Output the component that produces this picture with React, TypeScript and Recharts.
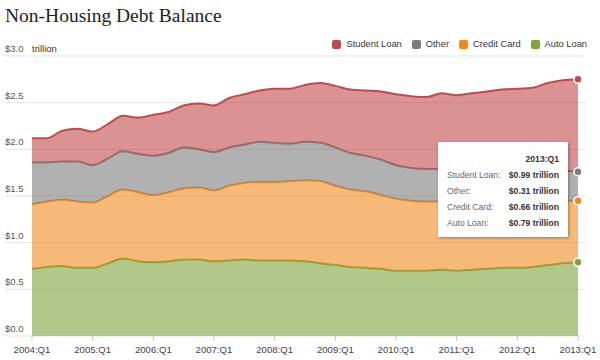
import React from 'react';
import { AreaChart, Area, XAxis, YAxis, CartesianGrid, Tooltip } from 'recharts';

const quarters = [
  '2004:Q1','2004:Q2','2004:Q3','2004:Q4',
  '2005:Q1','2005:Q2','2005:Q3','2005:Q4',
  '2006:Q1','2006:Q2','2006:Q3','2006:Q4',
  '2007:Q1','2007:Q2','2007:Q3','2007:Q4',
  '2008:Q1','2008:Q2','2008:Q3','2008:Q4',
  '2009:Q1','2009:Q2','2009:Q3','2009:Q4',
  '2010:Q1','2010:Q2','2010:Q3','2010:Q4',
  '2011:Q1','2011:Q2','2011:Q3','2011:Q4',
  '2012:Q1','2012:Q2','2012:Q3','2012:Q4',
  '2013:Q1',
];

const autoLoan = [0.72,0.74,0.75,0.73,0.73,0.78,0.83,0.80,0.79,0.80,0.82,0.82,0.80,0.81,0.82,0.81,0.81,0.81,0.80,0.78,0.76,0.74,0.73,0.72,0.70,0.70,0.70,0.71,0.70,0.71,0.72,0.73,0.73,0.74,0.76,0.78,0.79];
const creditCard = [0.69,0.70,0.71,0.71,0.70,0.72,0.74,0.74,0.72,0.74,0.76,0.77,0.76,0.80,0.82,0.84,0.84,0.85,0.87,0.88,0.85,0.83,0.82,0.79,0.77,0.75,0.74,0.73,0.74,0.73,0.72,0.71,0.71,0.70,0.69,0.67,0.66];
const other = [0.45,0.42,0.41,0.43,0.40,0.40,0.41,0.41,0.42,0.42,0.44,0.41,0.41,0.41,0.41,0.43,0.42,0.40,0.41,0.41,0.41,0.39,0.38,0.38,0.36,0.35,0.35,0.35,0.34,0.34,0.33,0.33,0.33,0.32,0.32,0.32,0.31];
const studentLoan = [0.26,0.26,0.33,0.35,0.36,0.37,0.38,0.39,0.44,0.44,0.45,0.49,0.50,0.53,0.54,0.55,0.58,0.59,0.61,0.64,0.66,0.68,0.70,0.73,0.76,0.77,0.77,0.81,0.80,0.82,0.85,0.87,0.88,0.90,0.94,0.97,0.99];

const yTicks = [0, 0.5, 1.0, 1.5, 2.0, 2.5, 3.0];

const series = [
  { key: 'auto', name: 'Auto Loan', color: '#7ea43d', values: autoLoan },
  { key: 'cc', name: 'Credit Card', color: '#f08a1c', values: creditCard },
  { key: 'other', name: 'Other', color: '#7d7d7d', values: other },
  { key: 'student', name: 'Student Loan', color: '#c24a4b', values: studentLoan },
];

const data = quarters.map((q, i) => {
  const row: any = { q };
  series.forEach((s) => { row[s.key] = s.values[i]; });
  return row;
});

const FONT = "'Liberation Sans', Arimo, sans-serif";

const YTick = (props: any) => {
  const { y, payload } = props;
  const v = Number(payload.value);
  return (
    <g>
      <text x={5} y={y - 4} fontSize={9.5} fill="#555" fontFamily={FONT}>{`$${v.toFixed(1)}`}</text>
      {v === 3 && (
        <text x={32} y={y - 4} fontSize={9.5} fill="#333" fontFamily={FONT}>trillion</text>
      )}
    </g>
  );
};

const TipContent = (props: any) => {
  const { payload, label } = props;
  if (!payload || !payload.length) return null;
  const rows = [...payload].reverse();
  return (
    <div style={{
      width: 130, height: 95, boxSizing: 'border-box', background: '#fff',
      boxShadow: '1px 1px 3px rgba(0,0,0,0.35)', padding: '9px 9px 0 9px',
      fontFamily: FONT, fontSize: 8.6, lineHeight: '16px', color: '#333', whiteSpace: 'nowrap',
    }}>
      <div style={{ textAlign: 'right', fontWeight: 'bold' }}>{label}</div>
      {rows.map((r: any) => (
        <div key={r.dataKey} style={{ display: 'flex', justifyContent: 'space-between' }}>
          <span style={{ color: '#666' }}>{r.name}:</span>
          <span style={{ fontWeight: 'bold' }}>{`$${Number(r.value).toFixed(2)} trillion`}</span>
        </div>
      ))}
    </div>
  );
};

export default function App() {
  const legendItems = [...series].reverse();
  return (
    <div style={{ position: 'relative', width: 600, height: 360, background: '#fff', overflow: 'hidden' }}>
      <style>{`body{margin:0;}`}</style>
      <div style={{
        position: 'absolute', left: 5, top: 5, fontFamily: "'Liberation Serif', Tinos, serif",
        fontSize: 19.5, lineHeight: '21px', color: '#222', whiteSpace: 'nowrap',
      }}>Non-Housing Debt Balance</div>
      <div style={{
        position: 'absolute', right: 13, top: 38, display: 'flex', alignItems: 'center',
        fontFamily: FONT, fontSize: 9.3, lineHeight: '12px', color: '#333', whiteSpace: 'nowrap',
      }}>
        {legendItems.map((s, i) => (
          <div key={s.key} style={{ display: 'flex', alignItems: 'center', marginLeft: i === 0 ? 0 : 10 }}>
            <span style={{ display: 'inline-block', width: 9, height: 9, borderRadius: 2, background: s.color, marginRight: 5 }} />
            <span>{s.name}</span>
          </div>
        ))}
      </div>
      <div style={{ position: 'absolute', left: 0, top: 0 }}>
        <AreaChart width={600} height={360} data={data} margin={{ top: 56, right: 15, bottom: 0, left: 4 }}>
          <CartesianGrid vertical={false} stroke="#e3e3e3" />
          <XAxis
            dataKey="q"
            interval={3}
            padding={{ left: 27, right: 7 }}
            height={24}
            axisLine={false}
            tickLine={{ stroke: '#c8c8c8' }}
            tickSize={5}
            tickMargin={5}
            tick={{ fontSize: 9.6, fill: '#444', fontFamily: FONT }}
          />
          <YAxis
            width={1}
            domain={[0, 3]}
            ticks={yTicks}
            axisLine={false}
            tickLine={false}
            tick={<YTick />}
          />
          <Tooltip
            content={<TipContent />}
            defaultIndex={36}
            position={{ x: 438, y: 142 }}
            cursor={false}
            isAnimationActive={false}
            wrapperStyle={{ zIndex: 10, outline: 'none' }}
          />
          {series.map((s) => (
            <Area
              key={s.key}
              type="monotone"
              dataKey={s.key}
              name={s.name}
              stackId="1"
              stroke={s.color}
              strokeWidth={2}
              fill={s.color}
              fillOpacity={0.6}
              dot={false}
              activeDot={{ r: 4, fill: s.color, stroke: '#fff', strokeWidth: 1.5 }}
              isAnimationActive={false}
            />
          ))}
        </AreaChart>
      </div>
    </div>
  );
}
